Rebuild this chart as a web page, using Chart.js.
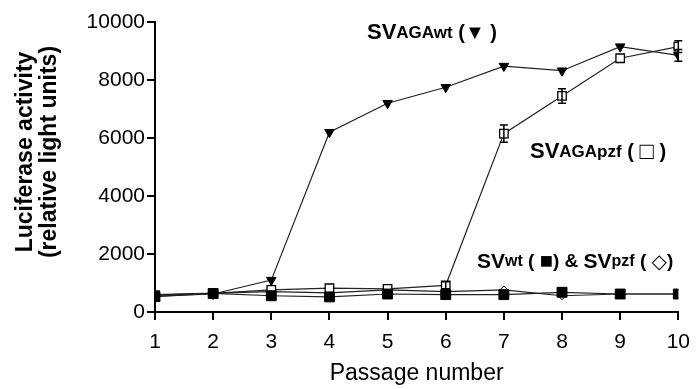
<!DOCTYPE html>
<html>
<head>
<meta charset="utf-8">
<script src="https://cdn.jsdelivr.net/npm/chart.js@4/dist/chart.umd.min.js"></script>
<style>
  html, body { margin: 0; padding: 0; background: #fff; }
  #wrap { width: 700px; height: 389px; }
</style>
</head>
<body>
<div id="wrap"><canvas id="chart" width="700" height="389"></canvas></div>
<script>
'use strict';

const passages = [1, 2, 3, 4, 5, 6, 7, 8, 9, 10];
const yTicks = [0, 2000, 4000, 6000, 8000, 10000];
const yTitleLines = ['Luciferase activity', '(relative light units)'];

const svAgaWt = [550, 620, 1100, 6200, 7200, 7750, 8480, 8320, 9150, 8850];
const svAgaWtErr = [0, 0, 0, 0, 0, 0, 0, 0, 0, 200];
const svAgaPzf = [580, 640, 760, 820, 800, 920, 6150, 7450, 8750, 9150];
const svAgaPzfErr = [0, 0, 0, 0, 0, 120, 300, 250, 0, 200];
const svWt = [530, 640, 560, 520, 620, 600, 600, 680, 620, 620];
const svPzf = [600, 650, 700, 660, 760, 700, 760, 560, 620, 620];

const FONT = '"Liberation Sans", Arial, "DejaVu Sans", sans-serif';

function pts(values) {
    return passages.map((p, i) => ({ x: p, y: values[i] }));
}

const errorBars = {
    id: 'errorBars',
    afterDatasetsDraw(chart) {
        const ctx = chart.ctx;
        const yScale = chart.scales.y;
        chart.data.datasets.forEach((ds, di) => {
            if (!ds.err) return;
            const meta = chart.getDatasetMeta(di);
            meta.data.forEach((pt, i) => {
                const e = ds.err[i];
                if (!e) return;
                const v = ds.data[i].y;
                const top = yScale.getPixelForValue(v + e);
                const bot = yScale.getPixelForValue(v - e);
                ctx.save();
                ctx.strokeStyle = '#000';
                ctx.lineWidth = 1.5;
                ctx.beginPath();
                ctx.moveTo(pt.x, top);
                ctx.lineTo(pt.x, bot);
                ctx.moveTo(pt.x - 4, top);
                ctx.lineTo(pt.x + 4, top);
                ctx.moveTo(pt.x - 4, bot);
                ctx.lineTo(pt.x + 4, bot);
                ctx.stroke();
                ctx.restore();
            });
        });
    }
};

// two-line rotated y title
const yTitle = {
    id: 'yTitle',
    afterDraw(chart) {
        const ctx = chart.ctx;
        ctx.save();
        ctx.translate(32, 152);
        ctx.rotate(-Math.PI / 2);
        ctx.fillStyle = '#000';
        ctx.font = 'bold 23px ' + FONT;
        ctx.textAlign = 'center';
        ctx.textBaseline = 'alphabetic';
        ctx.fillText(yTitleLines[0], 0, 0);
        ctx.fillText(yTitleLines[1], 0, 24);
        ctx.restore();
    }
};

// Series labels written inside the plot (SV + smaller subscript part)
const seriesLabels = {
    id: 'seriesLabels',
    afterDraw(chart) {
        const ctx = chart.ctx;
        const pieces = [
            { x: 367, y: 33, parts: [['SV', 22], ['AGAwt', 17], [' (', 20], ['\u25BC', 20], [' )', 20]] },
            { x: 530, y: 152, parts: [['SV', 22], ['AGApzf', 17], [' ( ', 20], ['\u25A1', 24], [' )', 20]] },
            { x: 477, y: 262, parts: [['SV', 21], ['wt', 16], [' ( ', 19], ['\u25A0', 22], [') & ', 19], ['SV', 21], ['pzf', 16], [' ( ', 19], ['\u25C7', 20], [')', 19]] }
        ];
        ctx.save();
        ctx.fillStyle = '#000';
        ctx.textBaseline = 'middle';
        ctx.textAlign = 'left';
        pieces.forEach(p => {
            let x = p.x;
            p.parts.forEach(([t, size]) => {
                const isSym = /[\u25A0-\u25FF]/.test(t);
                ctx.font = (isSym ? '' : 'bold ') + size + 'px ' + FONT;
                ctx.fillText(t, x, p.y);
                x += ctx.measureText(t).width;
            });
        });
        ctx.restore();
    }
};

const lineBase = {
    borderColor: '#222',
    borderWidth: 1.2,
    tension: 0,
    fill: false
};

// first dataset ends up on top
new Chart(document.getElementById('chart').getContext('2d'), {
    type: 'line',
    data: {
        datasets: [
            Object.assign({}, lineBase, {
                label: 'SVwt',
                data: pts(svWt),
                pointStyle: 'rect',
                pointRadius: 7,
                pointBackgroundColor: '#000',
                pointBorderColor: '#000',
                pointBorderWidth: 1
            }),
            Object.assign({}, lineBase, {
                label: 'SVAGAwt',
                data: pts(svAgaWt),
                err: svAgaWtErr,
                pointStyle: 'triangle',
                rotation: 180,
                pointRadius: 5.5,
                pointBackgroundColor: '#000',
                pointBorderColor: '#000',
                pointBorderWidth: 1
            }),
            Object.assign({}, lineBase, {
                label: 'SVAGApzf',
                data: pts(svAgaPzf),
                err: svAgaPzfErr,
                pointStyle: 'rect',
                pointRadius: 6,
                pointBackgroundColor: '#fff',
                pointBorderColor: '#000',
                pointBorderWidth: 1.3
            }),
            Object.assign({}, lineBase, {
                label: 'SVpzf',
                data: pts(svPzf),
                pointStyle: 'rectRot',
                pointRadius: 4,
                pointBackgroundColor: '#fff',
                pointBorderColor: '#000',
                pointBorderWidth: 1
            })
        ]
    },
    options: {
        responsive: false,
        animation: false,
        layout: { padding: { top: 22, right: 14, left: 0, bottom: 0 } },
        plugins: {
            legend: { display: false },
            tooltip: { enabled: false }
        },
        scales: {
            x: {
                type: 'linear',
                min: 1,
                max: 10,
                afterBuildTicks(scale) {
                    scale.ticks = passages.map(v => ({ value: v }));
                },
                afterFit(scale) { scale.height = 77; },
                grid: { drawOnChartArea: false, drawTicks: true, tickLength: 8, color: '#000', lineWidth: 2 },
                border: { color: '#000', width: 2 },
                ticks: {
                    color: '#000',
                    font: { family: FONT, size: 21 },
                    padding: 10,
                    callback: v => String(v)
                },
                title: {
                    display: true,
                    text: 'Passage number',
                    color: '#000',
                    font: { family: FONT, size: 23 },
                    padding: { top: 4, bottom: 2 }
                }
            },
            y: {
                min: 0,
                max: 10000,
                afterBuildTicks(scale) {
                    scale.ticks = yTicks.map(v => ({ value: v }));
                },
                afterFit(scale) { scale.width = 155; },
                grid: { drawOnChartArea: false, drawTicks: true, tickLength: 8, color: '#000', lineWidth: 2 },
                border: { color: '#000', width: 2 },
                ticks: {
                    color: '#000',
                    font: { family: FONT, size: 21 },
                    padding: 2,
                    callback: v => String(v)
                }
            }
        }
    },
    plugins: [errorBars, yTitle, seriesLabels]
});
</script>
</body>
</html>
